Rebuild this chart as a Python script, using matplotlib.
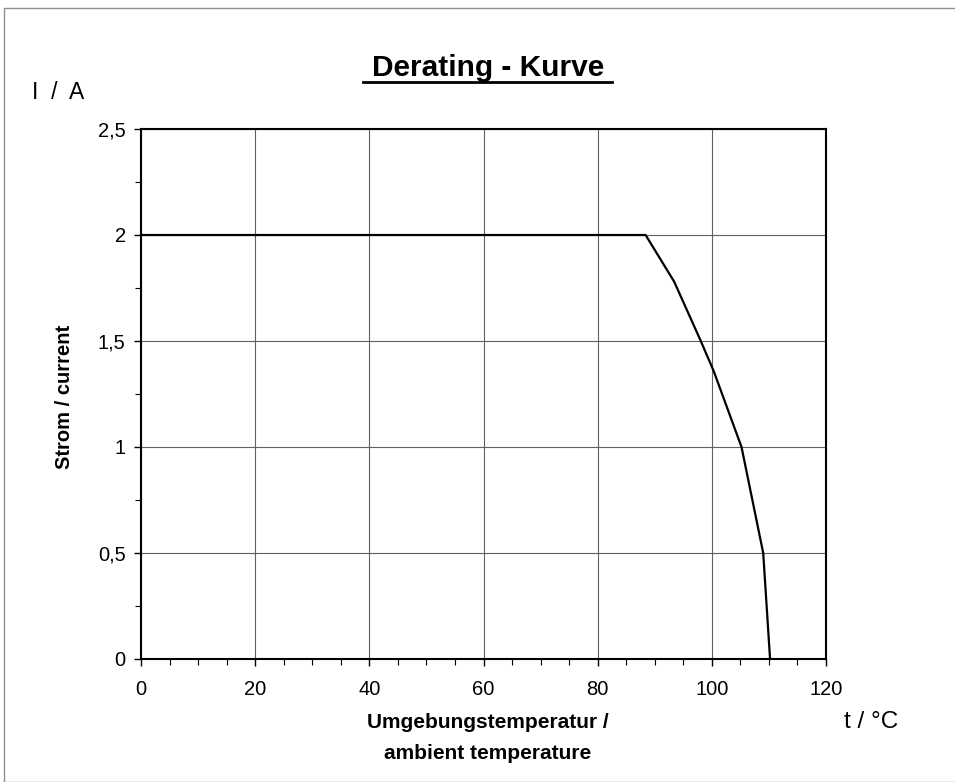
import matplotlib
matplotlib.use("Agg")
import matplotlib.pyplot as plt
from matplotlib.patches import Rectangle
from matplotlib.ticker import MultipleLocator

plt.rcParams['font.family'] = ['Liberation Sans', 'DejaVu Sans']

temp = [0, 88.4, 93.4, 97.9, 100.3, 105.2, 109.0, 110.2]
current = [2.0, 2.0, 1.78, 1.51, 1.36, 1.0, 0.5, 0.0]
xticks = [0, 20, 40, 60, 80, 100, 120]
yticks = [0, 0.5, 1, 1.5, 2, 2.5]
ylabels = ["0", "0,5", "1", "1,5", "2", "2,5"]

W, H = 955, 782
fig = plt.figure(figsize=(W/100, H/100), dpi=100)
fig.patches.append(Rectangle((4/W, 0), 2, (H-8)/H, transform=fig.transFigure,
                             fill=False, edgecolor='#909090', linewidth=1))
ax = fig.add_axes([141/W, (H-659)/H, (826-141)/W, (659-129)/H])

ax.plot(temp, current, color='black', linewidth=1.6, clip_on=False, zorder=3)
ax.set_xlim(0, 120)
ax.set_ylim(0, 2.5)
ax.set_xticks(xticks)
ax.set_yticks(yticks)
ax.set_yticklabels(ylabels)
ax.xaxis.set_minor_locator(MultipleLocator(5))
ax.yaxis.set_minor_locator(MultipleLocator(0.25))
ax.grid(True, which='major', color='#606060', linewidth=0.8)
ax.tick_params(which='major', direction='out', length=5, width=1, labelsize=14.5)
ax.tick_params(axis='x', which='major', pad=10)
ax.tick_params(axis='y', which='major', pad=6)
ax.tick_params(which='minor', direction='out', length=4, width=0.8)
for s in ax.spines.values():
    s.set_linewidth(1.5)

def fy(py):
    return 1 - py / H

fig.text(488/W, fy(76), "Derating - Kurve", ha='center', va='baseline',
         fontsize=21.5, fontweight='bold')
fig.add_artist(plt.Line2D([363/W, 612/W], [fy(82), fy(82)], color='black', linewidth=2))
fig.text(32/W, fy(99), "I  /  A", ha='left', va='baseline', fontsize=16.5)
fig.text(871/W, fy(728), "t / °C", ha='center', va='baseline', fontsize=17.5)
fig.text(488/W, fy(728), "Umgebungstemperatur /", ha='center', va='baseline',
         fontsize=15, fontweight='bold')
fig.text(488/W, fy(759), "ambient temperature", ha='center', va='baseline',
         fontsize=15, fontweight='bold')
fig.text(64/W, fy(397), "Strom / current", ha='center', va='center',
         fontsize=14.5, fontweight='bold', rotation=90)

fig.savefig("out.png", dpi=100)
